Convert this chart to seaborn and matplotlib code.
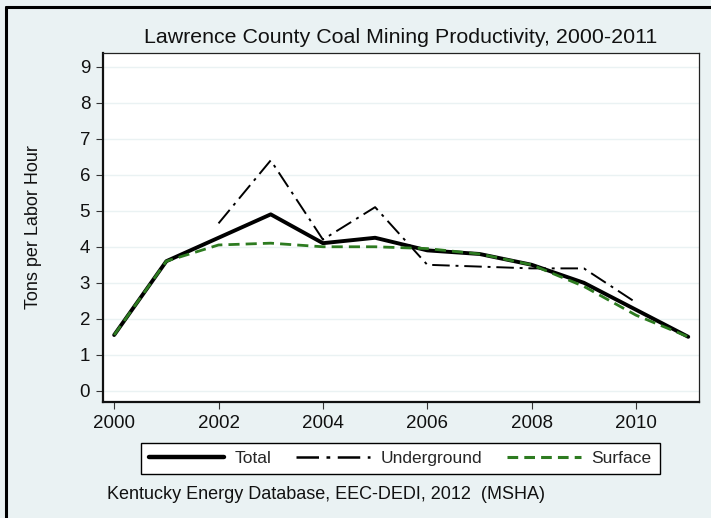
import numpy as np
import pandas as pd
import matplotlib
matplotlib.use("Agg")
import matplotlib.pyplot as plt
from matplotlib.lines import Line2D
import seaborn as sns

# Values (tons per labor hour)
years = [2000, 2001, 2002, 2003, 2004, 2005, 2006, 2007, 2008, 2009, 2010, 2011]
total = [1.55, 3.6, 4.25, 4.9, 4.1, 4.25, 3.9, 3.8, 3.5, 3.0, 2.25, 1.5]
underground = [np.nan, np.nan, 4.65, 6.4, 4.2, 5.1, 3.5, 3.45, 3.4, 3.4, 2.45, np.nan]
surface = [1.55, 3.6, 4.05, 4.1, 4.0, 4.0, 3.95, 3.8, 3.5, 2.9, 2.1, 1.5]

y_ticks = list(range(0, 10))
x_ticks = [2000, 2002, 2004, 2006, 2008, 2010]

bg = "#eaf2f3"
green = "#2d7b20"

df = pd.DataFrame({"year": years, "Total": total,
                   "Underground": underground, "Surface": surface})

sns.set_theme(style="white")
plt.rcParams["font.family"] = ["Liberation Sans", "DejaVu Sans"]

fig = plt.figure(figsize=(7.11, 5.18), dpi=100, facecolor=bg)
ax = fig.add_axes([0.1444, 0.2239, 0.8383, 0.6738])
ax.set_facecolor("white")

for y in y_ticks:
    ax.axhline(y, color=bg, lw=1.0, zorder=0)

sns.lineplot(data=df, x="year", y="Total", ax=ax, color="black", lw=2.8,
             label="Total", legend=False)
und = df.dropna(subset=["Underground"])
sns.lineplot(data=und, x="year", y="Underground", ax=ax, color="black", lw=1.4,
             dashes=False, label="Underground", legend=False)
ax.lines[-1].set_dashes([9, 3, 1.5, 3])
sns.lineplot(data=df, x="year", y="Surface", ax=ax, color=green, lw=2.0,
             label="Surface", legend=False)
ax.lines[-1].set_dashes([4, 2.2])

ax.set_xlim(1999.78, 2011.2)
ax.set_ylim(-0.31, 9.38)
ax.set_xticks(x_ticks)
ax.set_yticks(y_ticks)
ax.tick_params(axis="both", which="both", direction="out", length=5, width=0.8,
               color="#333333", labelsize=13.5, labelcolor="#111111", pad=4,
               left=True, bottom=True)
ax.set_xlabel("")
ax.set_ylabel("Tons per Labor Hour", fontsize=13, color="#111111")
ax.yaxis.set_label_coords(-0.102, 0.5)
ax.set_title("Lawrence County Coal Mining Productivity, 2000-2011",
             fontsize=15.4, color="#111111", pad=7)

for side in ["left", "bottom"]:
    ax.spines[side].set_color("#111111")
    ax.spines[side].set_linewidth(1.6)
for side in ["top", "right"]:
    ax.spines[side].set_color("#222222")
    ax.spines[side].set_linewidth(0.9)

handles = [
    Line2D([], [], color="black", lw=3.2),
    Line2D([], [], color="black", lw=1.8, dashes=[9, 3, 1.5, 3]),
    Line2D([], [], color=green, lw=2.2, dashes=[3.5, 2]),
]
leg = fig.legend(handles, ["Total", "Underground", "Surface"],
                 loc="center", bbox_to_anchor=(0.5633, 0.1149), ncol=3,
                 fontsize=12.5, frameon=True, fancybox=False, edgecolor="black",
                 handlelength=4.3, handletextpad=0.6, columnspacing=1.4,
                 borderpad=0.45)
leg.get_frame().set_linewidth(1.0)
leg.get_frame().set_facecolor("white")
leg.get_frame().set_alpha(1)

fig.text(0.150, 0.0463, "Kentucky Energy Database, EEC-DEDI, 2012  (MSHA)",
         fontsize=13, color="#111111", va="center", ha="left")

# outer frame (left and top edges visible in the reference)
fig.add_artist(Line2D([6 / 711, 6 / 711], [0, 1 - 7 / 518], color="black", lw=2.2,
                      transform=fig.transFigure))
fig.add_artist(Line2D([6 / 711, 1], [1 - 7 / 518, 1 - 7 / 518], color="black", lw=2.2,
                      transform=fig.transFigure))

fig.savefig("out.png", dpi=100, facecolor=bg)
